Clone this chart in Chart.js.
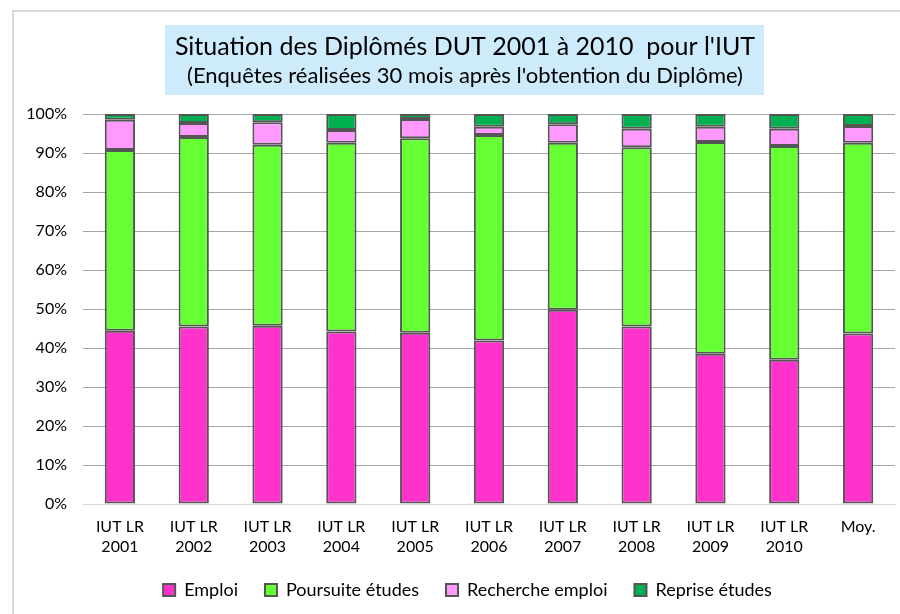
<!DOCTYPE html>
<html>
<head>
<meta charset="utf-8">
<script src="https://cdn.jsdelivr.net/npm/chart.js@4/dist/chart.umd.min.js"></script>
<style>
html,body{margin:0;padding:0;background:#fff;}
#wrap{width:900px;height:614px;position:relative;}
</style>
</head>
<body>
<div id="wrap"><canvas id="c" width="900" height="614"></canvas></div>
<script>
const categories = [['IUT LR','2001'],['IUT LR','2002'],['IUT LR','2003'],['IUT LR','2004'],['IUT LR','2005'],['IUT LR','2006'],['IUT LR','2007'],['IUT LR','2008'],['IUT LR','2009'],['IUT LR','2010'],'Moy.'];
const emploi     = [44.4, 45.5, 45.7, 44.2, 43.9, 41.9, 49.8, 45.5, 38.5, 37.0, 43.7];
const poursuite  = [46.4, 48.6, 46.4, 48.4, 49.9, 52.7, 42.8, 46.0, 54.3, 54.8, 48.9];
const recherche  = [7.7, 3.6, 5.8, 3.3, 4.9, 2.1, 4.8, 4.7, 3.9, 4.4, 4.3];
const reprise    = [1.5, 2.3, 2.1, 4.1, 1.3, 3.3, 2.6, 3.8, 3.3, 3.8, 3.1];
const seriesNames = ['Emploi','Poursuite études','Recherche emploi','Reprise études'];
const titleLines = ["Situation des Diplômés DUT 2001 à 2010  pour l'IUT", "(Enquêtes réalisées 30 mois après l'obtention du Diplôme)"];

const FONT = 'Lato, "Open Sans", sans-serif';

const frame = {
  id:'frame',
  afterLayout(chart){
    if (chart.legend){ chart.legend.left += 20; chart.legend.right += 20; }
  },
  beforeDraw(chart){
    const ctx = chart.ctx;
    ctx.save();
    ctx.fillStyle='#fff';
    ctx.fillRect(0,0,chart.width,chart.height);
    ctx.strokeStyle='#d9d9d9';
    ctx.lineWidth=2;
    ctx.strokeRect(13,11,chart.width+20,chart.height+20);
    ctx.fillStyle='#cdebfb';
    ctx.fillRect(165,25,599,70);
    ctx.fillStyle='#000';
    ctx.textAlign='center';
    ctx.textBaseline='middle';
    ctx.font='25px '+FONT;
    ctx.fillText(titleLines[0],465,47);
    ctx.font='22px '+FONT;
    ctx.fillText(titleLines[1],465,76);
    ctx.restore();
  }
};

const mk = (label,data,color)=>({label,data,backgroundColor:color,borderColor:'#555555',borderWidth:2,borderSkipped:false,barPercentage:0.41,categoryPercentage:1});

new Chart(document.getElementById('c'),{
  type:'bar',
  data:{
    labels:categories,
    datasets:[
      mk(seriesNames[0],emploi,'#ff33cc'),
      mk(seriesNames[1],poursuite,'#66ff33'),
      mk(seriesNames[2],recherche,'#ff99ff'),
      mk(seriesNames[3],reprise,'#00b050')
    ]
  },
  options:{
    responsive:false,
    animation:false,
    devicePixelRatio:1,
    layout:{padding:{top:114,left:0,right:5,bottom:5}},
    plugins:{
      title:{display:false},
      tooltip:{enabled:false},
      legend:{
        position:'bottom',
        labels:{font:{family:FONT,size:18},color:'#000',boxWidth:12,boxHeight:12,padding:27}
      }
    },
    scales:{
      x:{
        stacked:true,
        grid:{display:false,drawTicks:false},
        border:{display:true,color:'#d9d9d9',width:1},
        ticks:{font:{family:FONT,size:16,lineHeight:1.3},color:'#000',padding:12,maxRotation:0,autoSkip:false},
        afterFit(s){s.height=50;}
      },
      y:{
        stacked:true,min:0,max:100,
        ticks:{stepSize:10,callback:v=>v+'%',font:{family:FONT,size:16},color:'#000',padding:16},
        grid:{drawTicks:false,color:c=>c.tick&&c.tick.value===0?'#d9d9d9':'#a6a6a6',lineWidth:1},
        border:{display:false},
        afterFit(s){s.width=83;}
      }
    }
  },
  plugins:[frame]
});
</script>
</body>
</html>
